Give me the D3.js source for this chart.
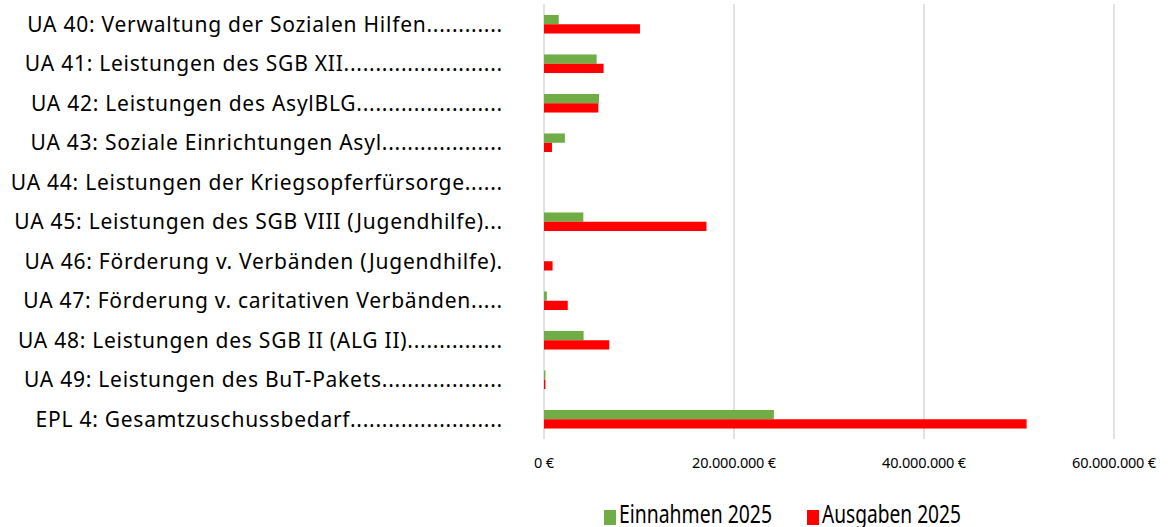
<!DOCTYPE html>
<html>
<head>
<meta charset="utf-8">
<script src="https://cdn.jsdelivr.net/npm/d3@7"></script>
<style>
  body { margin: 0; background: #fff; }
  text { font-family: "Noto Sans", "Open Sans", sans-serif; fill: #000; }
</style>
</head>
<body>
<div id="chart"></div>
<script>

let categories = [
  "UA 40: Verwaltung der Sozialen Hilfen............",
  "UA 41: Leistungen des SGB XII.........................",
  "UA 42: Leistungen des AsylBLG.......................",
  "UA 43: Soziale Einrichtungen Asyl...................",
  "UA 44: Leistungen der Kriegsopferfürsorge......",
  "UA 45: Leistungen des SGB VIII (Jugendhilfe)...",
  "UA 46: Förderung v. Verbänden (Jugendhilfe).",
  "UA 47: Förderung v. caritativen Verbänden.....",
  "UA 48: Leistungen des SGB II (ALG II)...............",
  "UA 49: Leistungen des BuT-Pakets...................",
  "EPL 4: Gesamtzuschussbedarf........................"
];

let einnahmen = [1550000, 5540000, 5790000, 2200000, 0, 4140000, 0, 300000, 4170000, 150000, 24200000];
let ausgaben  = [10100000, 6270000, 5720000, 840000, 0, 17100000, 900000, 2500000, 6870000, 150000, 50800000];

let seriesNames = ["Einnahmen 2025", "Ausgaben 2025"];
let seriesColors = ["#70AD47", "#FF0000"];
let xTicks = [0, 20000000, 40000000, 60000000];

let width = 1173, height = 527;

let svg = d3.select("#chart").append("svg")
  .attr("width", width)
  .attr("height", height);

let x = d3.scaleLinear()
  .domain([0, 60000000])
  .range([544, 1114]);

let y = d3.scaleBand()
  .domain(categories)
  .range([4.5, 439])
  .paddingInner(0.53)
  .paddingOuter(0.265);

let sub = d3.scaleBand()
  .domain([0, 1])
  .range([0, y.bandwidth()]);

// gridlines
svg.selectAll("line.grid")
  .data(xTicks)
  .enter()
  .append("line")
  .attr("class", "grid")
  .attr("x1", d => x(d))
  .attr("x2", d => x(d))
  .attr("y1", 4)
  .attr("y2", 439)
  .style("stroke", "#d9d9d9")
  .style("stroke-width", 1.5);

// tick labels
let fmt = d => d3.format(",.0f")(d).replace(/,/g, ".") + " €";
svg.selectAll("text.tick")
  .data(xTicks)
  .enter()
  .append("text")
  .attr("class", "tick")
  .attr("x", d => x(d))
  .attr("y", 467.5)
  .attr("text-anchor", "middle")
  .style("font-size", "14.5px")
  .style("letter-spacing", "-0.2px")
  .text(fmt);

// bars
let rows = categories.map((c, i) => ({ c: c, vals: [einnahmen[i], ausgaben[i]] }));

let groups = svg.selectAll("g.row")
  .data(rows)
  .enter()
  .append("g")
  .attr("class", "row")
  .attr("transform", d => "translate(0," + y(d.c) + ")");

groups.selectAll("rect")
  .data(d => d.vals)
  .enter()
  .append("rect")
  .attr("x", x(0))
  .attr("y", (d, i) => sub(i))
  .attr("width", d => x(d) - x(0))
  .attr("height", sub.bandwidth())
  .style("fill", (d, i) => seriesColors[i]);

// category labels
svg.selectAll("text.cat")
  .data(categories)
  .enter()
  .append("text")
  .attr("class", "cat")
  .attr("x", 503)
  .attr("y", d => y(d) + y.bandwidth() / 2)
  .attr("dy", "0.36em")
  .attr("text-anchor", "end")
  .style("font-size", "21px")
  .style("letter-spacing", "0.75px")
  .text(d => d);

// legend
let legendX = [604, 807];
let legendW = [153, 139];
let legend = svg.selectAll("g.legend")
  .data(seriesNames)
  .enter()
  .append("g")
  .attr("class", "legend")
  .attr("transform", (d, i) => "translate(" + legendX[i] + ",0)");

legend.append("rect")
  .attr("x", 0)
  .attr("y", 510)
  .attr("width", 12)
  .attr("height", 15)
  .style("fill", (d, i) => seriesColors[i]);

legend.append("text")
  .attr("x", 15)
  .attr("y", 523)
  .attr("textLength", (d, i) => legendW[i])
  .attr("lengthAdjust", "spacingAndGlyphs")
  .style("font-size", "25px")
  .text(d => d);

</script>
</body>
</html>
